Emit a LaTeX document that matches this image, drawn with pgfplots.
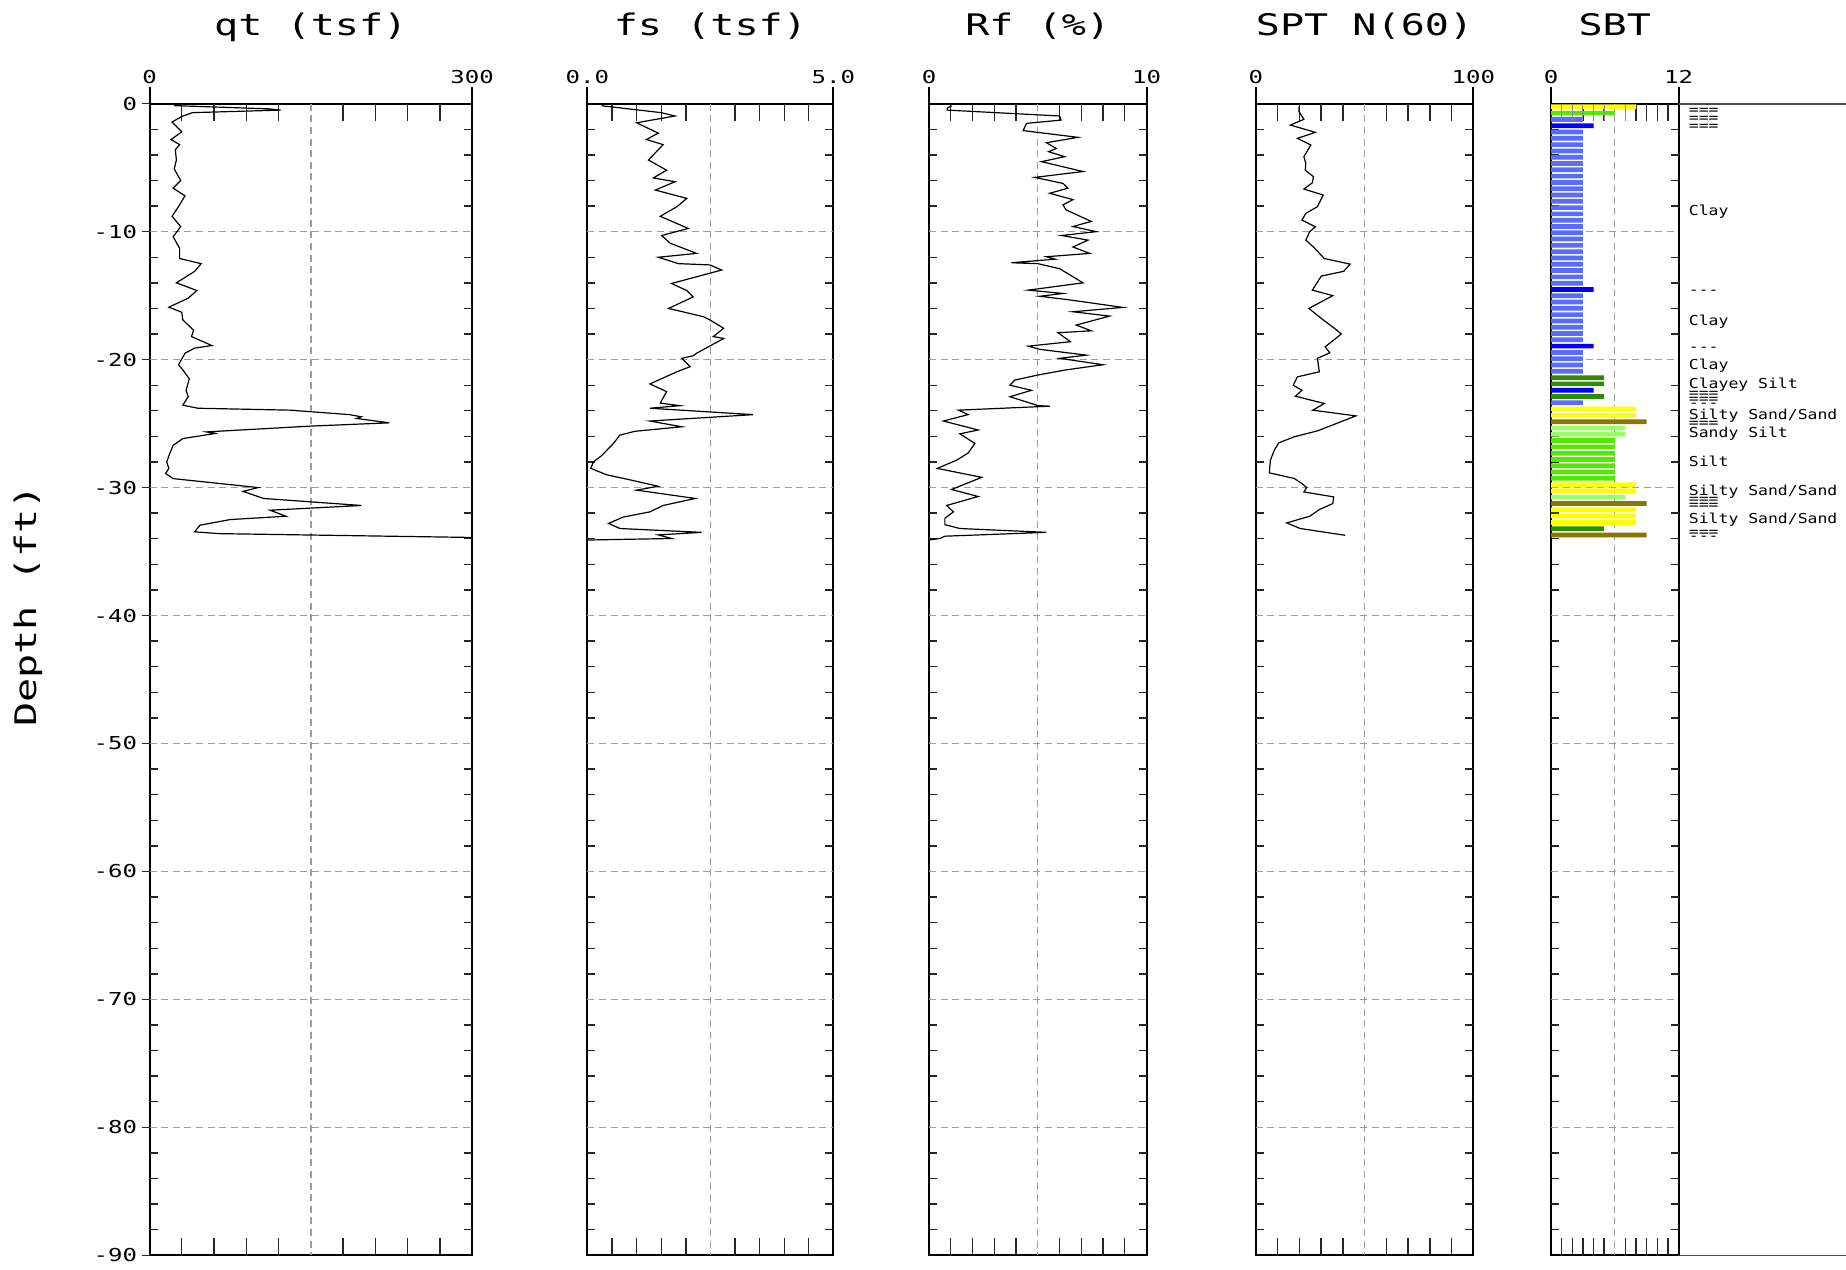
\documentclass[border=0pt]{standalone}
\usepackage{pgfplots}
\pgfplotsset{compat=1.18}
\usepackage{fontspec}
\newfontfamily\chartfont[FakeStretch=1.35]{DejaVu Sans Mono}
\newfontfamily\labfontfam[FakeStretch=1.2]{DejaVu Sans Mono}
\newcommand{\titlefont}{\chartfont\fontsize{14.85pt}{16pt}\selectfont}
\newcommand{\tickfont}{\chartfont\fontsize{8.9pt}{10pt}\selectfont}
\newcommand{\labfont}{\labfontfam\fontsize{6.85pt}{8pt}\selectfont}

\definecolor{sbtyellow}{RGB}{255,255,0}
\definecolor{sbtgreen}{RGB}{80,235,0}
\definecolor{sbtlblue}{RGB}{88,108,255}
\definecolor{sbtblue}{RGB}{0,0,255}
\definecolor{sbtdgreen}{RGB}{45,140,0}
\definecolor{sbtolive}{RGB}{140,118,0}
\definecolor{sbtlgreen}{RGB}{153,255,102}

\tikzset{
 gridline/.style={line width=0.7pt, color=black!38, dash pattern=on 3.5pt off 2.3pt},
 tk/.style={line width=0.7pt, color=black!85},
 ext/.style={line width=1pt, color=black},
 sbtlab/.style={font=\labfont, anchor=base west, xshift=5pt, inner sep=0pt},
 ptitle/.style={font=\titlefont, anchor=base, yshift=34.2pt, inner sep=0pt},
}

\pgfplotsset{
 panel/.style={
  scale only axis, height=575.8pt, ymin=-90, ymax=0, clip=false,
  axis line style={line width=1pt},
  tick style={draw=none}, major tick length=0pt, minor tick length=0pt,
  ytick={0,-10,-20,-30,-40,-50,-60,-70,-80,-90}, yticklabels={},
  xticklabel pos=upper,
  xticklabel style={font=\tickfont, anchor=base, yshift=10pt, inner sep=0pt},
  anchor=north west,
 },
 curve/.style={black, line width=0.6pt, mark=none},
 sbtbar/.style={xbar, bar width=2.35pt, bar shift=0pt, draw=none, forget plot},
}

\newcommand{\panelframe}[3]{%
 \draw[gridline] (axis cs:#2,0) -- (axis cs:#2,-90);
 \pgfplotsinvokeforeach{-10,-20,-30,-40,-50,-60,-70,-80}{\draw[gridline] (axis cs:0,##1) -- (axis cs:#1,##1);}
 \pgfplotsinvokeforeach{#3}{\draw[tk] (axis cs:##1,0) -- ++(0pt,-8.5pt); \draw[tk] (axis cs:##1,-90) -- ++(0pt,8.5pt);}
 \pgfplotsinvokeforeach{-2,-4,-6,-8,-12,-14,-16,-18,-22,-24,-26,-28,-32,-34,-36,-38,-42,-44,-46,-48,-52,-54,-56,-58,-62,-64,-66,-68,-72,-74,-76,-78,-82,-84,-86,-88}{\draw[tk] (axis cs:0,##1) -- ++(4pt,0pt); \draw[tk] (axis cs:#1,##1) -- ++(-4pt,0pt);}
 \draw[ext] (axis cs:0,0) -- ++(0pt,8.5pt);
 \draw[ext] (axis cs:#1,0) -- ++(0pt,8.5pt);
}

\begin{document}
\begin{tikzpicture}
\path[use as bounding box] (0,0) rectangle (923pt,-634.5pt);

\node[font=\titlefont, rotate=90, anchor=base, inner sep=0pt] at (18.35pt,-303pt) {Depth (ft)};

% ---------------- qt ----------------
\begin{axis}[panel, at={(74.75pt,-51.85pt)}, width=161.3pt,
  xmin=0, xmax=300, xtick={0,300}, xticklabels={0,300},
  yticklabels={0,-10,-20,-30,-40,-50,-60,-70,-80,-90},
  yticklabel style={font=\tickfont, anchor=east, xshift=-6pt, inner sep=0pt}]
\panelframe{300}{150}{30,60,90,120,180,210,240,270}
\pgfplotsinvokeforeach{0,-10,-20,-30,-40,-50,-60,-70,-80,-90}{\draw[tk] (axis cs:0,#1) -- ++(-4pt,0pt);}
\node[ptitle] at (rel axis cs:0.5,1) {qt (tsf)};
\addplot[curve] coordinates {
(23,-0.15) (110,-0.4) (122,-0.5) (40,-0.7) (30,-1.0) (21,-1.43) (30,-2.2) (20,-2.8) (28,-3.2) (24,-3.6)
(25,-4.4) (23,-5.1) (29,-6.0) (22,-6.6) (33,-7.2) (28,-7.9) (21,-8.8) (29,-9.6) (22,-10.4) (28,-11.3)
(28,-12.1) (48,-12.5) (42,-13.1) (25,-14.0) (44,-14.6) (36,-15.2) (18,-15.9) (30,-16.3) (31,-16.9) (41,-17.7)
(39,-18.2) (58,-18.9) (42,-19.1) (33,-19.5) (27,-20.4) (31,-20.8) (37,-21.5) (34,-22.4) (36,-22.9) (31,-23.56)
(45,-23.8) (130.5,-23.95) (186,-24.3) (197,-24.47) (192.5,-24.6) (223,-24.94) (149,-25.2) (53,-25.65) (61,-25.77) (51.5,-25.9)
(31,-26.17) (22,-26.7) (19,-27.3) (16,-28.0) (18,-28.5) (15,-28.9) (22,-29.3) (101,-30.0) (87,-30.3) (106,-30.85)
(197,-31.4) (112,-31.77) (127,-32.24) (75,-32.5) (47,-32.94) (42,-33.46) (65,-33.6) (300,-33.9)
};
\end{axis}

% ---------------- fs ----------------
\begin{axis}[panel, at={(293.7pt,-51.85pt)}, width=123pt,
  xmin=0, xmax=5, xtick={0,5}, xticklabels={0.0,5.0}]
\panelframe{5}{2.5}{0.5,1,1.5,2,3,3.5,4,4.5}
\node[ptitle] at (rel axis cs:0.5,1) {fs (tsf)};
\addplot[curve] coordinates {
(0.29,-0.16) (1.5,-0.7) (1.78,-0.96) (1.0,-1.49) (1.44,-2.3) (1.2,-2.8) (1.54,-3.2) (1.24,-4.4) (1.61,-5.2) (1.34,-5.8)
(1.78,-6.1) (1.38,-6.75) (2.02,-7.4) (1.82,-8.05) (1.48,-8.8) (2.05,-9.75) (1.51,-10.3) (1.68,-10.9) (2.22,-11.7) (1.44,-12.0)
(1.85,-12.5) (2.49,-12.6) (2.73,-13.0) (1.71,-14.05) (2.02,-14.6) (2.15,-15.1) (1.65,-16.0) (2.36,-16.65) (2.49,-16.9) (2.77,-17.55)
(2.56,-18.2) (2.77,-18.35) (2.22,-19.5) (2.15,-19.7) (1.92,-19.9) (2.09,-20.55) (1.82,-20.95) (1.27,-21.9) (1.61,-22.5) (1.48,-23.4)
(1.88,-23.6) (1.27,-23.8) (3.37,-24.3) (1.27,-24.8) (1.92,-25.25) (0.97,-25.6) (0.66,-25.9) (0.53,-26.55) (0.29,-27.5) (0.12,-28.0)
(0.07,-28.5) (0.39,-29.0) (0.87,-29.4) (1.44,-29.9) (1.0,-30.2) (2.19,-30.85) (1.54,-31.4) (1.27,-31.9) (0.73,-32.3) (0.43,-32.8)
(0.66,-33.2) (2.32,-33.5) (1.44,-33.7) (1.71,-33.98) (0,-34.1)
};
\end{axis}

% ---------------- Rf ----------------
\begin{axis}[panel, at={(464.5pt,-51.85pt)}, width=108.75pt,
  xmin=0, xmax=10, xtick={0,10}, xticklabels={0,10}]
\panelframe{10}{5}{1,2,3,4,6,7,8,9}
\node[ptitle] at (rel axis cs:0.5,1) {Rf (\%)};
\addplot[curve] coordinates {
(1.04,-0.16) (0.84,-0.35) (0.84,-0.5) (6.0,-0.96) (6.07,-1.28) (4.48,-1.54) (4.33,-2.1) (6.85,-2.63) (5.4,-3.05) (5.85,-3.5)
(5.5,-3.75) (6.24,-4.14) (5.17,-4.53) (7.08,-5.3) (4.86,-5.76) (6.16,-6.23) (6.39,-6.6) (5.55,-7.0) (6.62,-7.5) (6.16,-7.9)
(6.3,-8.3) (7.46,-9.2) (6.62,-9.6) (7.69,-10.0) (6.09,-10.3) (7.31,-10.66) (6.62,-11.2) (7.39,-11.7) (5.4,-11.96) (5.8,-12.15)
(3.79,-12.43) (5.0,-12.5) (6.01,-12.9) (7.08,-14.0) (4.56,-14.57) (6.16,-14.83) (5.1,-15.05) (6.54,-15.35) (8.91,-15.92) (6.62,-16.26)
(8.3,-16.6) (6.77,-17.3) (7.46,-17.75) (5.93,-17.9) (6.5,-18.6) (4.56,-18.95) (5.1,-19.2) (7.23,-19.65) (6.01,-19.9) (8.0,-20.4)
(6.31,-20.8) (5.02,-21.2) (3.94,-21.6) (3.72,-22.0) (4.71,-22.4) (3.72,-22.9) (5.02,-23.6) (5.55,-23.64) (1.35,-23.95) (1.8,-24.3)
(0.66,-24.8) (2.26,-25.5) (1.42,-25.8) (2.11,-26.55) (1.8,-27.3) (1.27,-27.86) (0.38,-28.5) (2.42,-29.2) (1.04,-30.15) (2.26,-30.7)
(0.81,-31.4) (1.12,-31.9) (0.73,-32.4) (0.73,-32.9) (1.42,-33.2) (5.4,-33.5) (0.73,-33.8) (0.5,-33.98) (0,-34.1)
};
\end{axis}

% ---------------- SPT ----------------
\begin{axis}[panel, at={(627.9pt,-51.85pt)}, width=108.75pt,
  xmin=0, xmax=100, xtick={0,100}, xticklabels={0,100}]
\panelframe{100}{50}{10,20,30,40,60,70,80,90}
\node[ptitle] at (rel axis cs:0.5,1) {SPT N(60)};
\addplot[curve] coordinates {
(19.8,-0.23) (19.8,-0.6) (22.1,-1.22) (15.9,-1.67) (27.4,-2.24) (19.1,-2.71) (25.3,-3.23) (22.1,-4.14) (23.0,-4.67) (22.7,-5.19)
(26.5,-5.7) (26.0,-6.18) (22.1,-6.67) (31.0,-7.14) (28.3,-8.05) (23.0,-8.57) (21.2,-9.1) (27.4,-9.62) (24.8,-10.0) (23.0,-10.66)
(26.5,-11.2) (31.5,-12.1) (43.4,-12.54) (40.4,-13.1) (30.1,-13.47) (26.0,-14.57) (35.4,-15.0) (24.4,-16.0) (31.0,-16.9) (36.3,-17.57)
(39.3,-18.0) (31.9,-19.0) (34.0,-19.47) (28.3,-19.9) (29.2,-20.95) (19.1,-21.35) (17.2,-22.0) (21.2,-22.4) (18.2,-22.86) (31.5,-23.43)
(26.2,-23.95) (46.0,-24.4) (38.9,-24.87) (28.3,-25.57) (17.7,-26.03) (10.6,-26.5) (8.5,-27.08) (6.7,-27.86) (6.2,-28.85) (17.7,-29.29)
(21.6,-29.74) (23.4,-30.0) (22.1,-30.34) (35.8,-30.73) (35.4,-31.25) (29.2,-31.72) (24.8,-32.24) (14.2,-32.76) (20.4,-33.2) (41.1,-33.73)
};
\end{axis}

% ---------------- SBT ----------------
\begin{axis}[panel, at={(775.5pt,-51.85pt)}, width=63.75pt,
  xmin=0, xmax=12, xtick={0,12}, xticklabels={0,12}]
\panelframe{12}{6}{1,2,3,4,5,7,8,9,10,11}
\node[ptitle] at (rel axis cs:0.5,1) {SBT};
\addplot[sbtbar, fill=sbtyellow] coordinates {(8,-0.246) (8,-23.867) (8,-24.359) (8,-29.772) (8,-30.264) (8,-31.740) (8,-32.232) (8,-32.725)};
\addplot[sbtbar, fill=sbtgreen] coordinates {(6,-0.738) (6,-26.327) (6,-26.819) (6,-27.311) (6,-27.804) (6,-28.296) (6,-28.788) (6,-29.280)};
\addplot[sbtbar, fill=sbtlblue] coordinates {(3,-1.230)
(3,-2.214) (3,-2.707) (3,-3.199) (3,-3.691) (3,-4.183) (3,-4.675) (3,-5.167) (3,-5.659) (3,-6.151) (3,-6.643)
(3,-7.135) (3,-7.628) (3,-8.120) (3,-8.612) (3,-9.104) (3,-9.596) (3,-10.088) (3,-10.580) (3,-11.072) (3,-11.564)
(3,-12.056) (3,-12.548) (3,-13.041) (3,-13.533) (3,-14.025)
(3,-15.009) (3,-15.501) (3,-15.993) (3,-16.485) (3,-16.977) (3,-17.469) (3,-17.962) (3,-18.454)
(3,-19.438) (3,-19.930) (3,-20.422) (3,-20.914) (3,-23.375)};
\addplot[sbtbar, fill=sbtblue] coordinates {(4,-1.722) (4,-14.517) (4,-18.946) (4,-22.390)};
\addplot[sbtbar, fill=sbtdgreen] coordinates {(5,-21.406) (5,-21.898) (5,-22.883) (5,-33.217)};
\addplot[sbtbar, fill=sbtolive] coordinates {(9,-24.851) (9,-31.248) (9,-33.709)};
\addplot[sbtbar, fill=sbtlgreen] coordinates {(7,-25.343) (7,-25.835) (7,-30.756)};
\pgfplotsinvokeforeach{1,2,3,4,5,7}{\draw[line width=0.6pt, black!45] (axis cs:#1,0) -- ++(0pt,-8.5pt);}
\node[sbtlab] at (axis cs:12,-0.83) {===};
\node[sbtlab] at (axis cs:12,-1.46) {===};
\node[sbtlab] at (axis cs:12,-2.09) {===};
\node[sbtlab] at (axis cs:12,-8.70) {Clay};
\node[sbtlab] at (axis cs:12,-14.92) {---};
\node[sbtlab] at (axis cs:12,-17.30) {Clay};
\node[sbtlab] at (axis cs:12,-19.35) {---};
\node[sbtlab] at (axis cs:12,-20.77) {Clay};
\node[sbtlab] at (axis cs:12,-22.25) {Clayey Silt};
\node[sbtlab] at (axis cs:12,-22.98) {===};
\node[sbtlab] at (axis cs:12,-23.45) {===};
\node[sbtlab] at (axis cs:12,-23.78) {---};
\node[sbtlab] at (axis cs:12,-24.68) {Silty Sand/Sand};
\node[sbtlab] at (axis cs:12,-25.29) {===};
\node[sbtlab] at (axis cs:12,-26.11) {Sandy Silt};
\node[sbtlab] at (axis cs:12,-28.38) {Silt};
\node[sbtlab] at (axis cs:12,-30.60) {Silty Sand/Sand};
\node[sbtlab] at (axis cs:12,-31.27) {===};
\node[sbtlab] at (axis cs:12,-31.75) {===};
\node[sbtlab] at (axis cs:12,-32.81) {Silty Sand/Sand};
\node[sbtlab] at (axis cs:12,-33.83) {===};
\node[sbtlab] at (axis cs:12,-34.13) {---};
\end{axis}

\draw[line width=0.8pt, black!70] (839.25pt,-51.85pt) -- (923pt,-51.85pt);
\draw[line width=0.8pt, black!70] (839.25pt,-627.65pt) -- (923pt,-627.65pt);
\end{tikzpicture}
\end{document}
